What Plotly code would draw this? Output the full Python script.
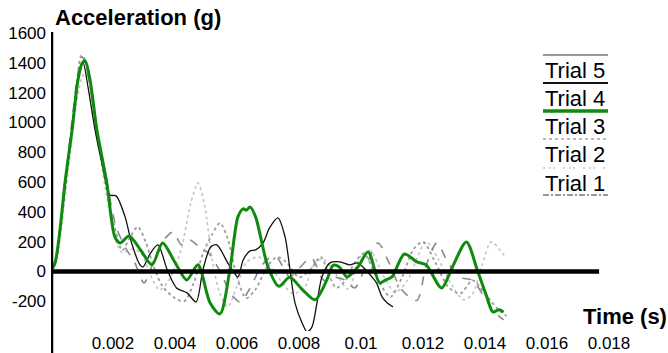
import plotly.graph_objects as go

# ---------------- data (time in ms, acceleration in g) ----------------
t_trial4 = [0, 0.13, 0.29, 0.45, 0.68, 0.87, 1.0, 1.1, 1.26, 1.48, 1.8, 2.06, 2.23, 2.52, 2.9, 3.26,
            3.6, 4.0, 4.38, 4.74, 5.13, 5.45, 5.77, 6.03, 6.2, 6.3, 6.42, 6.6, 7.0, 7.35, 7.7, 8.1,
            8.52, 8.9, 9.1, 9.3, 9.55, 9.9, 10.23, 10.6, 10.8, 11.0, 11.4, 11.8, 12.1, 12.6, 12.95,
            13.4, 13.75, 14.06, 14.25, 14.45, 14.6]
a_trial4 = [0, 57, 278, 594, 950, 1285, 1395, 1413, 1285, 950, 594, 232, 191, 238, 140, 44,
            191, 60, -57, 44, -211, -285, 10, 366, 420, 410, 433, 366, 30, -100, -40, -120,
            -190, -57, 40, 30, -37, 30, 131, -77, -57, -37, 117, 64, 44, -111, 30,
            198, 10, -171, -272, -258, -272]

t_trial5 = [0, 0.15, 0.3, 0.5, 0.7, 0.87, 1.03, 1.2, 1.42, 1.65, 1.9, 2.1, 2.39, 2.6, 2.87, 2.97,
            3.2, 3.45, 3.75, 4.05, 4.39, 4.68, 4.9, 5.15, 5.35, 5.7, 5.85, 6.03, 6.2, 6.42, 6.6,
            6.84, 7.05, 7.32, 7.55, 7.71, 7.87, 8.1, 8.26, 8.42, 8.58, 8.74, 9.0, 9.32, 9.64,
            9.87, 10.06, 10.3, 10.5, 10.68, 10.84, 11.03]
a_trial5 = [0, 60, 300, 650, 1000, 1300, 1405, 1230, 950, 720, 513, 507, 366, 191, 44, 30,
            120, 178, 10, -111, -144, -205, 10, 164, 178, 57, 10, -37, 77, 138, 144,
            191, 292, 359, 232, 10, -211, -346, -406, -372, -211, -37, 57, 64, 44,
            57, 30, -24, -77, -171, -211, -238]

t_trial3 = [0, 0.15, 0.3, 0.5, 0.7, 0.85, 0.98, 1.1, 1.3, 1.5, 1.8, 2.1, 2.3, 2.55, 2.8, 3.05,
            3.3, 3.6, 4.0, 4.3, 4.6, 4.9, 5.2, 5.45, 5.7, 6.0, 6.3, 6.6, 7.0, 7.3, 7.6, 8.0,
            8.4, 8.7, 9.0, 9.2, 9.5, 9.8, 10.1, 10.5, 10.95, 11.3, 11.7, 12.0, 12.4, 12.8,
            13.2, 13.6, 14.0, 14.4, 14.7]
a_trial3 = [0, 60, 300, 660, 1020, 1300, 1450, 1420, 1180, 880, 550, 260, 140, 230, 299, 200,
            40, -100, -180, -200, -80, 120, 250, 325, 220, -40, -180, -120, 40, 97, 60, -40,
            20, 97, -40, -111, -60, 60, 120, -40, -171, -50, 150, 198, 60, -100,
            -150, -60, -150, -250, -300]

t_trial2 = [0, 0.2, 0.4, 0.6, 0.8, 1.0, 1.15, 1.3, 1.5, 1.8, 2.1, 2.3, 2.6, 2.9, 3.2, 3.5,
            3.8, 4.2, 4.5, 4.74, 4.95, 5.2, 5.45, 5.7, 6.0, 6.3, 6.7, 7.0, 7.4, 7.8, 8.2, 8.5,
            8.8, 9.2, 9.6, 9.97, 10.3, 10.7, 11.1, 11.5, 12.1, 12.5, 12.9, 13.3, 13.6, 13.9,
            14.2, 14.5, 14.65]
a_trial2 = [0, 100, 400, 750, 1100, 1300, 1350, 1200, 900, 500, 200, 124, 150, 124, -20, -124,
            -60, 150, 450, 594, 450, 77, -150, -238, -100, 60, 97, 50, -60, -150, -100, 60,
            80, -20, -120, 97, 140, -20, -140, -60, 198, 80, -80, -190, -150, 40,
            198, 140, 97]

t_trial1 = [0, 0.15, 0.3, 0.5, 0.7, 0.87, 1.0, 1.1, 1.3, 1.5, 1.8, 2.1, 2.4, 2.7, 3.0, 3.3,
            3.6, 3.94, 4.2, 4.48, 4.8, 5.1, 5.5, 5.8, 6.1, 6.4, 6.8, 7.1, 7.3, 7.7, 8.0, 8.4,
            8.8, 9.2, 9.5, 9.8, 10.2, 10.55, 10.9, 11.3, 11.8, 12.1, 12.45, 12.8, 13.2, 13.6,
            14.0, 14.3, 14.6]
a_trial1 = [0, 70, 320, 680, 1050, 1330, 1440, 1400, 1200, 920, 600, 300, 160, 60, -77, 60,
            200, 265, 180, 211, 160, 120, -20, -150, -205, -120, 40, 97, 90, -37, 20, 91,
            -60, -40, -60, -111, 60, 191, 60, -120, -195, 40, 191, 60, -40, -60,
            -180, -270, -325]

x_tickvals = [0.002, 0.004, 0.006, 0.008, 0.01, 0.012, 0.014, 0.016, 0.018]
x_ticktext = ["0.002", "0.004", "0.006", "0.008", "0.01", "0.012", "0.014", "0.016", "0.018"]
y_tickvals = [-200, 0, 200, 400, 600, 800, 1000, 1200, 1400, 1600]
y_ticktext = ["-200", "0", "200", "400", "600", "800", "1000", "1200", "1400", "1600"]
legend_names = ["Trial 5", "Trial 4", "Trial 3", "Trial 2", "Trial 1"]

# ---------------- figure ----------------
W, H = 668, 353
L, R, T, B = 51, 59, 33, 22
PW, PH = W - L - R, H - T - B


def px(x):
    return (x - L) / PW


def py(y):
    return (H - B - y) / PH


def sec(ts):
    return [v / 1000.0 for v in ts]


FONT = "Arial, 'Liberation Sans', sans-serif"

fig = go.Figure()
series = [
    ("Trial 2", t_trial2, a_trial2, dict(color="#c4c4c4", width=1.6, dash="dot")),
    ("Trial 3", t_trial3, a_trial3, dict(color="#9c9c9c", width=1.8, dash="dot")),
    ("Trial 1", t_trial1, a_trial1, dict(color="#8a8a8a", width=1.6, dash="dash")),
    ("Trial 5", t_trial5, a_trial5, dict(color="#111111", width=1.3)),
    ("Trial 4", t_trial4, a_trial4, dict(color="#0f8a0f", width=3)),
]
for name, t, a, ln in series:
    ln = dict(ln, shape="spline", smoothing=0.8)
    fig.add_trace(go.Scatter(x=sec(t), y=a, mode="lines", name=name, line=ln,
                             showlegend=False, hoverinfo="skip"))

shapes = []
# horizontal zero axis line
shapes.append(dict(type="line", xref="x", yref="y", x0=0, x1=0.01768, y0=0, y1=0,
                   line=dict(color="black", width=4.5), layer="above"))
# vertical axis line
shapes.append(dict(type="line", xref="x", yref="paper", x0=0, x1=0, y0=py(H + 2), y1=py(32),
                   line=dict(color="black", width=4.5), layer="above"))

# legend keys (drawn between the labels like the original)
lx0, lx1 = px(543), px(608)
keys = [
    (55, dict(color="#999999", width=2)),
    (83, dict(color="#111111", width=2)),
    (111, dict(color="#0f8a0f", width=3.5)),
    (139, dict(color="#bbbbbb", width=2, dash="dot")),
    (168, dict(color="#c8c8c8", width=1.5, dash="2px,4px,2px,2px,2px,8px")),
    (195, dict(color="#999999", width=2, dash="6px,2px,2px,2px")),
]
for y, ln in keys:
    shapes.append(dict(type="line", xref="paper", yref="paper", x0=lx0, x1=lx1,
                       y0=py(y), y1=py(y), line=ln))

annotations = []
for i, name in enumerate(legend_names):
    yc = 70 + i * 28.3
    annotations.append(dict(text=name, xref="paper", yref="paper", x=px(543), y=py(yc),
                            xanchor="left", yanchor="middle", showarrow=False,
                            font=dict(family=FONT, size=22, color="black")))
annotations.append(dict(text="<b>Acceleration (g)</b>", xref="paper", yref="paper",
                        x=px(53), y=py(17), xanchor="left", yanchor="middle", showarrow=False,
                        font=dict(family=FONT, size=22, color="black")))
annotations.append(dict(text="<b>Time (s)</b>", xref="paper", yref="paper",
                        x=px(669), y=py(316), xanchor="right", yanchor="middle", showarrow=False,
                        font=dict(family=FONT, size=22, color="black")))

fig.update_layout(
    width=W, height=H,
    margin=dict(l=L, r=R, t=T, b=B, pad=0, autoexpand=False),
    paper_bgcolor="white", plot_bgcolor="white",
    font=dict(family=FONT, size=17, color="black"),
    shapes=shapes, annotations=annotations,
    showlegend=False,
    xaxis=dict(range=[0, 0.018], tickvals=x_tickvals, ticktext=x_ticktext,
               showgrid=False, zeroline=False, showline=False, ticks="", automargin=False,
               tickfont=dict(size=17), fixedrange=True),
    yaxis=dict(range=[-400, 1600], tickvals=y_tickvals, ticktext=y_ticktext,
               showgrid=False, zeroline=False, showline=False, ticks="", automargin=False,
               tickfont=dict(size=17), ticklabelstandoff=4, fixedrange=True),
)

fig.write_html("out.html")
